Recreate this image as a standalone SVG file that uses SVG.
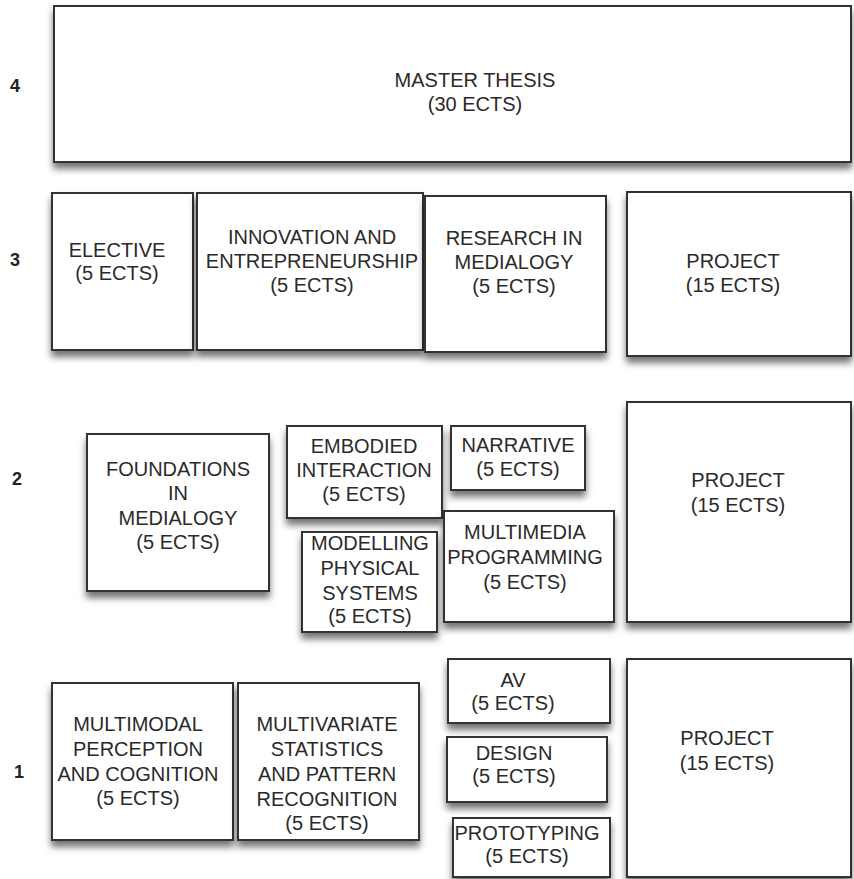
<svg xmlns="http://www.w3.org/2000/svg" width="854" height="879" viewBox="0 0 854 879">
<style>
.bx{fill:#fff;stroke:#333;stroke-width:2;filter:url(#sh)}
.t{font-family:"Liberation Sans",Arial,sans-serif;font-size:20px;fill:#2a2a2a;text-anchor:middle}
.lb{font-family:"Liberation Sans",Arial,sans-serif;font-size:18px;font-weight:bold;fill:#222;text-anchor:middle}
</style>
<defs>
<filter id="sh" x="-10%" y="-10%" width="120%" height="130%">
<feDropShadow dx="0" dy="6" stdDeviation="3.5" flood-color="#000" flood-opacity="0.55"/>
</filter>
<clipPath id="clipInno"><rect x="197" y="193" width="226" height="157"/></clipPath>
</defs>
<rect width="854" height="879" fill="#fff"/>
<g id="labels">
<text class="lb" x="15" y="92">4</text>
<text class="lb" x="15" y="266">3</text>
<text class="lb" x="17" y="485">2</text>
<text class="lb" x="19" y="778">1</text>
</g>
<g id="master-thesis">
<rect class="bx" x="54" y="6" width="797" height="156"/>
<text class="t" x="475" y="87">MASTER THESIS<tspan x="475" y="111">(30 ECTS)</tspan></text>
</g>
<g id="elective">
<rect class="bx" x="52" y="193" width="141" height="157"/>
<text class="t" x="117" y="257">ELECTIVE<tspan x="117" y="280">(5 ECTS)</tspan></text>
</g>
<g id="innovation">
<rect class="bx" x="197" y="193" width="226" height="157"/>
<text class="t" x="312" y="244" clip-path="url(#clipInno)">INNOVATION AND<tspan x="312" y="268">ENTREPRENEURSHIP</tspan><tspan x="312" y="292">(5 ECTS)</tspan></text>
</g>
<g id="research">
<rect class="bx" x="425" y="196" width="181" height="156"/>
<text class="t" x="514" y="245">RESEARCH IN<tspan x="514" y="269">MEDIALOGY</tspan><tspan x="514" y="293">(5 ECTS)</tspan></text>
</g>
<g id="project-3">
<rect class="bx" x="627" y="192" width="224" height="164"/>
<text class="t" x="733" y="268">PROJECT<tspan x="733" y="292">(15 ECTS)</tspan></text>
</g>
<g id="foundations">
<rect class="bx" x="87" y="434" width="182" height="157"/>
<text class="t" x="178" y="476">FOUNDATIONS<tspan x="178" y="500">IN</tspan><tspan x="178" y="525">MEDIALOGY</tspan><tspan x="178" y="549">(5 ECTS)</tspan></text>
</g>
<g id="embodied">
<rect class="bx" x="287" y="426" width="155" height="92"/>
<text class="t" x="364" y="453">EMBODIED<tspan x="364" y="477">INTERACTION</tspan><tspan x="364" y="501">(5 ECTS)</tspan></text>
</g>
<g id="narrative">
<rect class="bx" x="451" y="426" width="134" height="64"/>
<text class="t" x="518" y="452">NARRATIVE<tspan x="518" y="476">(5 ECTS)</tspan></text>
</g>
<g id="multimedia">
<rect class="bx" x="444" y="511" width="170" height="111"/>
<text class="t" x="525" y="539">MULTIMEDIA<tspan x="525" y="564">PROGRAMMING</tspan><tspan x="525" y="589">(5 ECTS)</tspan></text>
</g>
<g id="modelling">
<rect class="bx" x="302" y="532" width="135" height="100"/>
<text class="t" x="370" y="550">MODELLING<tspan x="370" y="575">PHYSICAL</tspan><tspan x="370" y="600">SYSTEMS</tspan><tspan x="370" y="623">(5 ECTS)</tspan></text>
</g>
<g id="project-2">
<rect class="bx" x="627" y="402" width="224" height="220"/>
<text class="t" x="738" y="487">PROJECT<tspan x="738" y="512">(15 ECTS)</tspan></text>
</g>
<g id="multimodal">
<rect class="bx" x="52" y="683" width="181" height="157"/>
<text class="t" x="138" y="731">MULTIMODAL<tspan x="138" y="756">PERCEPTION</tspan><tspan x="138" y="781">AND COGNITION</tspan><tspan x="138" y="805">(5 ECTS)</tspan></text>
</g>
<g id="multivariate">
<rect class="bx" x="238" y="683" width="181" height="157"/>
<text class="t" x="327" y="731">MULTIVARIATE<tspan x="327" y="756">STATISTICS</tspan><tspan x="327" y="781">AND PATTERN</tspan><tspan x="327" y="806">RECOGNITION</tspan><tspan x="327" y="830">(5 ECTS)</tspan></text>
</g>
<g id="av">
<rect class="bx" x="448" y="659" width="162" height="64"/>
<text class="t" x="513" y="687">AV<tspan x="513" y="710">(5 ECTS)</tspan></text>
</g>
<g id="design">
<rect class="bx" x="447" y="737" width="160" height="65"/>
<text class="t" x="514" y="760">DESIGN<tspan x="514" y="783">(5 ECTS)</tspan></text>
</g>
<g id="prototyping">
<rect class="bx" x="453" y="818" width="157" height="59"/>
<text class="t" x="527" y="840">PROTOTYPING<tspan x="527" y="863">(5 ECTS)</tspan></text>
</g>
<g id="project-1">
<rect class="bx" x="627" y="659" width="224" height="218"/>
<text class="t" x="727" y="745">PROJECT<tspan x="727" y="770">(15 ECTS)</tspan></text>
</g>
<g id="connectors"></g>
</svg>
